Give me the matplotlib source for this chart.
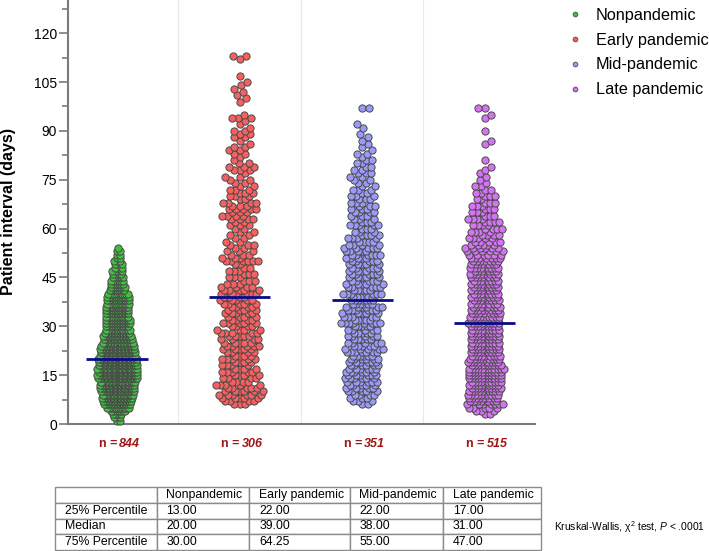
import numpy as np
import matplotlib
matplotlib.use('Agg')
import matplotlib.pyplot as plt
from matplotlib.lines import Line2D

plt.rcParams['font.family'] = ['Liberation Sans', 'DejaVu Sans']
plt.rcParams['mathtext.fontset'] = 'custom'
plt.rcParams['mathtext.rm'] = 'Liberation Sans'
plt.rcParams['mathtext.it'] = 'Liberation Sans:italic'

groups = ['Nonpandemic', 'Early pandemic', 'Mid-pandemic', 'Late pandemic']
colors = ['#42bf42', '#f56060', '#9b9bf7', '#d673f5']
n_counts = [844, 306, 351, 515]

# patients per day of interval (first day, counts)
green_first = 1
green_per_day = [2, 3, 5, 8, 14, 17, 19, 21, 22, 24, 25, 25, 26,
                 30, 31, 30, 31, 30, 29, 30,
                 27, 26, 25, 24, 22, 20, 19, 17, 16, 15,
                 16, 16, 15, 15, 15, 15, 14, 14, 14, 12,
                 9, 8, 7, 7, 6, 5, 5, 4, 4, 3, 2, 2, 2, 1]
red_first = 6
red_per_day = [3, 4, 5, 6, 6, 5, 5, 4, 4, 4, 5, 4, 4, 4, 5, 4, 4,
               5, 5, 5, 4, 5, 5, 4, 4, 5, 4, 4, 5, 4, 4, 5, 5, 4,
               6, 5, 4, 3, 3, 3, 3, 3, 2, 2, 6, 3, 3, 3, 2, 3, 2, 2, 2, 2, 2, 3, 2, 4, 4,
               3, 5, 3, 4, 2, 3, 3, 3, 2, 2, 2, 2, 1, 3, 3,
               2, 1, 1, 2, 2, 2, 1, 1, 2, 2, 2, 1, 1, 1, 3, 1,
               0, 0, 0, 1, 1, 1, 1, 1, 1, 1, 0, 1, 0, 0, 0, 0, 1, 2]
blue_first = 6
blue_per_day = [2, 3, 3, 4, 5, 5, 5, 6, 6, 6, 6, 6, 6, 6, 6, 6, 7,
                5, 5, 5, 5, 5, 5, 5, 5, 8, 5, 5, 5, 6, 6, 6, 7,
                6, 6, 5, 5, 5, 5, 5, 5, 5, 5, 5, 5, 5, 6, 5, 5, 4,
                4, 4, 4, 3, 3, 5, 3, 3, 3, 4, 3, 3, 3, 3, 3,
                2, 3, 2, 2, 2, 2, 3, 2, 2, 2, 2, 1, 2, 1, 1, 1,
                1, 1, 1, 0, 1, 1, 0, 0, 0, 0, 2]
purple_first = 3
purple_per_day = [2, 3, 5, 7, 8, 9, 10, 10, 10, 10, 10, 11, 11, 11, 12,
                  10, 10, 9, 9, 9, 9, 9, 9, 9, 9, 9, 9, 9, 10,
                  9, 9, 8, 8, 8, 8, 8, 8, 8, 8, 8, 8, 8, 8, 8, 7,
                  9, 8, 7, 7, 6, 6, 6, 5, 5, 5, 4, 4, 4, 4, 4,
                  4, 3, 3, 3, 3, 3, 2, 3, 2, 2, 2, 1, 1,
                  1, 1, 1, 1, 0, 1, 0, 0, 0, 0, 1, 1, 0, 0, 1, 0, 0, 0, 1, 1, 0, 2]

row_labels = ['25% Percentile', 'Median', '75% Percentile']
q25 = [13.00, 22.00, 22.00, 17.00]
medians = [20.00, 39.00, 38.00, 31.00]
q75 = [30.00, 64.25, 55.00, 47.00]

firsts = [green_first, red_first, blue_first, purple_first]
per_day = [green_per_day, red_per_day, blue_per_day, purple_per_day]
half_widths = [20, 24, 21, 20]  # px, half width of each swarm

W, H = 709, 551
fig = plt.figure(figsize=(W / 100, H / 100), dpi=100)
ax = fig.add_axes([68 / W, 1 - 424 / H, (535 - 68) / W, 424 / H])
ax.set_xlim(-0.4, 3.41)
ax.set_ylim(0, 130.2)
px_x = (535 - 68) / 3.81
px_y = 424 / 130.2
DOT = 7.0  # marker diameter in pixels


def swarm(y, delta):
    # beeswarm in pixel space; y sorted, delta = per-point spacing
    xs = np.zeros(len(y))
    for i in range(len(y)):
        lo = np.searchsorted(y[:i], y[i] - DOT)
        ny = y[lo:i]
        nx = xs[lo:i]
        if len(ny) == 0:
            continue
        r2 = ((delta[lo:i] + delta[i]) / 2) ** 2
        dy2 = (ny - y[i]) ** 2
        near = dy2 < r2
        if not near.any():
            continue
        dx = np.sqrt(r2[near] - dy2[near])
        cands = np.concatenate(([0.0], nx[near] + dx, nx[near] - dx))
        cands = cands[np.argsort(np.abs(cands), kind='stable')]
        ok = np.all((nx[None, :] - cands[:, None]) ** 2 + dy2[None, :] >= r2[None, :] - 1e-6, axis=1)
        xs[i] = cands[np.argmax(ok)]
    return xs


def fit_swarm(vals, max_half=21.5, power=0.3):
    # dense stretches get tighter spacing (dots overlap), sparse ones keep full size
    local = np.array([np.sum(np.abs(vals - v) <= 1) for v in vals])
    y = vals * px_y
    full = swarm(y, np.full(len(y), DOT))
    if np.abs(full).max() <= max_half:
        return full
    lo, hi = np.log(0.01), np.log(local.max())
    best = None
    for _ in range(14):
        mid = (lo + hi) / 2
        d = np.minimum(DOT, DOT * (np.exp(mid) / local) ** power)
        xm = swarm(y, d)
        if np.abs(xm).max() <= max_half:
            lo, best = mid, xm
        else:
            hi = mid
    if best is None:
        best = swarm(y, np.minimum(DOT, DOT * (np.exp(lo) / local) ** power))
    return best


# light separators between groups
for b in [0.5, 1.5, 2.5]:
    ax.axvline(b, color='#e9e9e9', lw=0.8, zorder=0)

for i in range(4):
    days = np.arange(firsts[i], firsts[i] + len(per_day[i]))
    vals = np.repeat(days, per_day[i]).astype(float)
    xs = fit_swarm(vals, max_half=half_widths[i])
    ax.scatter(i + xs / px_x, vals, s=27, color=colors[i], edgecolor='#4a4a4a',
               linewidth=0.7, zorder=3, clip_on=False)
    ax.hlines(medians[i], i - 0.25, i + 0.25, color='#0b0b8a', lw=2, zorder=5)
    ax.text(i, -6.1, 'n =', ha='right', va='center', fontsize=9, weight='bold',
            color='#a01515', clip_on=False)
    ax.text(i + 2 / px_x, -6.1, str(n_counts[i]), ha='left', va='center', fontsize=9,
            weight='bold', style='italic', color='#a01515', clip_on=False)

for s in ['top', 'right']:
    ax.spines[s].set_visible(False)
for s in ['left', 'bottom']:
    ax.spines[s].set_color('#7a7a7a')
    ax.spines[s].set_linewidth(1.5)
ax.set_xticks([])
ax.set_yticks(np.arange(0, 121, 15))
ax.set_yticks(np.arange(7.5, 130, 15), minor=True)
ax.tick_params(axis='y', which='major', length=6.5, width=1.2, color='#7a7a7a',
               labelsize=10, pad=1.5)
ax.tick_params(axis='y', which='minor', length=4.3, width=1.2, color='#7a7a7a')
ax.set_ylabel('Patient interval (days)', fontsize=11.5, weight='bold')
ax.yaxis.set_label_coords((16 - 68) / 467, 0.502)

handles = [Line2D([], [], ls='', marker='o', markersize=3.4, markerfacecolor=c,
                  markeredgecolor='#4a4a4a', markeredgewidth=0.6) for c in colors]
ax.legend(handles, groups, loc='upper left', bbox_to_anchor=(566.7 / W, 1 - 8 / H),
          bbox_transform=fig.transFigure, frameon=False, fontsize=11.7,
          handlelength=1.0, handletextpad=0.81, labelspacing=0.6,
          borderpad=0, borderaxespad=0)

# summary table
tab_ax = fig.add_axes([55 / W, 1 - 550 / H, (541 - 55) / W, (550 - 487) / H])
tab_ax.axis('off')
cell_text = [[row_labels[r]] + ['%.2f' % v for v in vals]
             for r, vals in enumerate([q25, medians, q75])]
edges = [55, 157, 249, 350, 443, 541]
col_w = [(edges[k + 1] - edges[k]) / 486 for k in range(5)]
tbl = tab_ax.table(cellText=cell_text, colLabels=[''] + groups, cellLoc='left',
                   colLoc='left', colWidths=col_w, bbox=[0, 0, 1, 1])
tbl.auto_set_font_size(False)
tbl.set_fontsize(8.8)
for cell in tbl.get_celld().values():
    cell.set_edgecolor('#8c8c8c')
    cell.set_linewidth(1.0)

fig.text(554 / W, 1 - 527 / H, r'Kruskal-Wallis, χ$^2$ test, $P$ < .0001',
         fontsize=7.4, ha='left', va='center')

fig.savefig('out.png', dpi=100)
